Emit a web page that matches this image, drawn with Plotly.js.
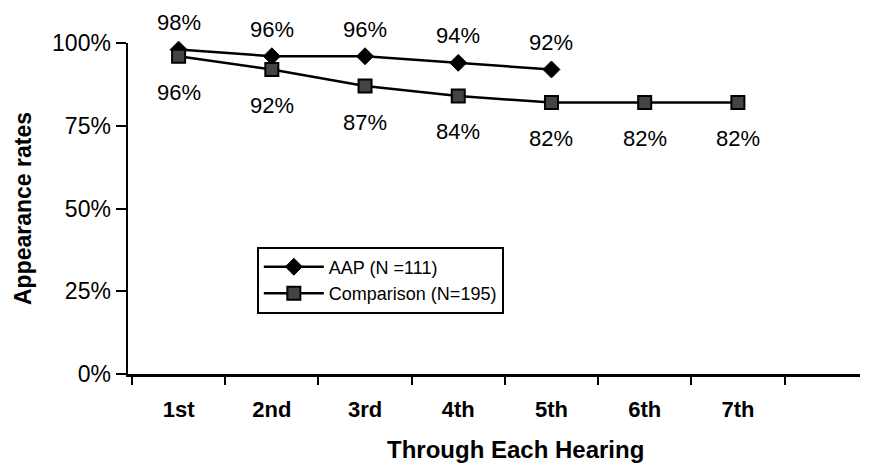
<!DOCTYPE html>
<html>
<head>
<meta charset="utf-8">
<script src="https://cdn.plot.ly/plotly-3.0.1.min.js"></script>
<style>html,body{margin:0;padding:0;background:#fff;}#chart{width:874px;height:464px;}</style>
</head>
<body>
<div id="chart"></div>
<script>
const hearings = ["1st", "2nd", "3rd", "4th", "5th", "6th", "7th"];
const aapValues = [98, 96, 96, 94, 92];
const comparisonValues = [96, 92, 87, 84, 82, 82, 82];
const yTickValues = [0, 25, 50, 75, 100];
const yTickLabels = ["0%", "25%", "50%", "75%", "100%"];
const aapName = "AAP (N =111)";
const comparisonName = "Comparison (N=195)";

const FONT = "Liberation Sans, Arial, sans-serif";

const traces = [
  {
    x: hearings.slice(0, aapValues.length),
    y: aapValues,
    name: aapName,
    type: "scatter",
    mode: "lines+markers",
    line: {color: "#000", width: 2.5},
    marker: {symbol: "diamond", size: 13, color: "#000", line: {color: "#000", width: 1}},
    cliponaxis: false
  },
  {
    x: hearings,
    y: comparisonValues,
    name: comparisonName,
    type: "scatter",
    mode: "lines+markers",
    line: {color: "#000", width: 2.5},
    marker: {symbol: "square", size: 13, color: "#444", line: {color: "#000", width: 2}},
    cliponaxis: false
  }
];

const annotations = [];
aapValues.forEach((v, i) => {
  annotations.push({x: hearings[i], y: v, xref: "x", yref: "y", text: v + "%", showarrow: false,
    yshift: 27, font: {family: FONT, size: 22, color: "#000"}});
});
comparisonValues.forEach((v, i) => {
  annotations.push({x: hearings[i], y: v, xref: "x", yref: "y", text: v + "%", showarrow: false,
    yshift: -36, font: {family: FONT, size: 22, color: "#000"}});
});
annotations.push({x: 0.53, y: -0.228, xref: "paper", yref: "paper", yanchor: "middle", text: "<b>Through Each Hearing</b>",
  showarrow: false, font: {family: FONT, size: 24, color: "#000"}});

const layout = {
  width: 874, height: 464,
  margin: {l: 128, r: 14, t: 43, b: 90},
  paper_bgcolor: "#fff", plot_bgcolor: "#fff",
  font: {family: FONT, color: "#000"},
  showlegend: true,
  legend: {
    x: 0.176, y: 0.385, xanchor: "left", yanchor: "top",
    bgcolor: "#fff", bordercolor: "#000", borderwidth: 2,
    font: {family: FONT, size: 18, color: "#000"},
    itemwidth: 60,
    tracegroupgap: 0
  },
  xaxis: {
    type: "category",
    categoryarray: hearings,
    range: [-0.543, 7.31],
    showline: true, linecolor: "#000", linewidth: 2.5,
    ticks: "outside", ticklen: 8, tickwidth: 2, tickcolor: "#000",
    tickson: "boundaries",
    showgrid: false, zeroline: false,
    tickfont: {family: FONT, size: 22, color: "#000", weight: "bold"},
    ticklabelstandoff: 14
  },
  yaxis: {
    range: [0, 100],
    tickvals: yTickValues,
    ticktext: yTickLabels,
    showline: true, linecolor: "#000", linewidth: 2.5,
    ticks: "outside", ticklen: 10, tickwidth: 2, tickcolor: "#000",
    showgrid: false, zeroline: false,
    tickfont: {family: FONT, size: 23, color: "#000"},
    title: {text: "<b>Appearance rates</b>", font: {family: FONT, size: 23, color: "#000"}, standoff: 14}
  },
  annotations: annotations
};

Plotly.newPlot("chart", traces, layout, {staticPlot: true, displayModeBar: false});
</script>
</body>
</html>
